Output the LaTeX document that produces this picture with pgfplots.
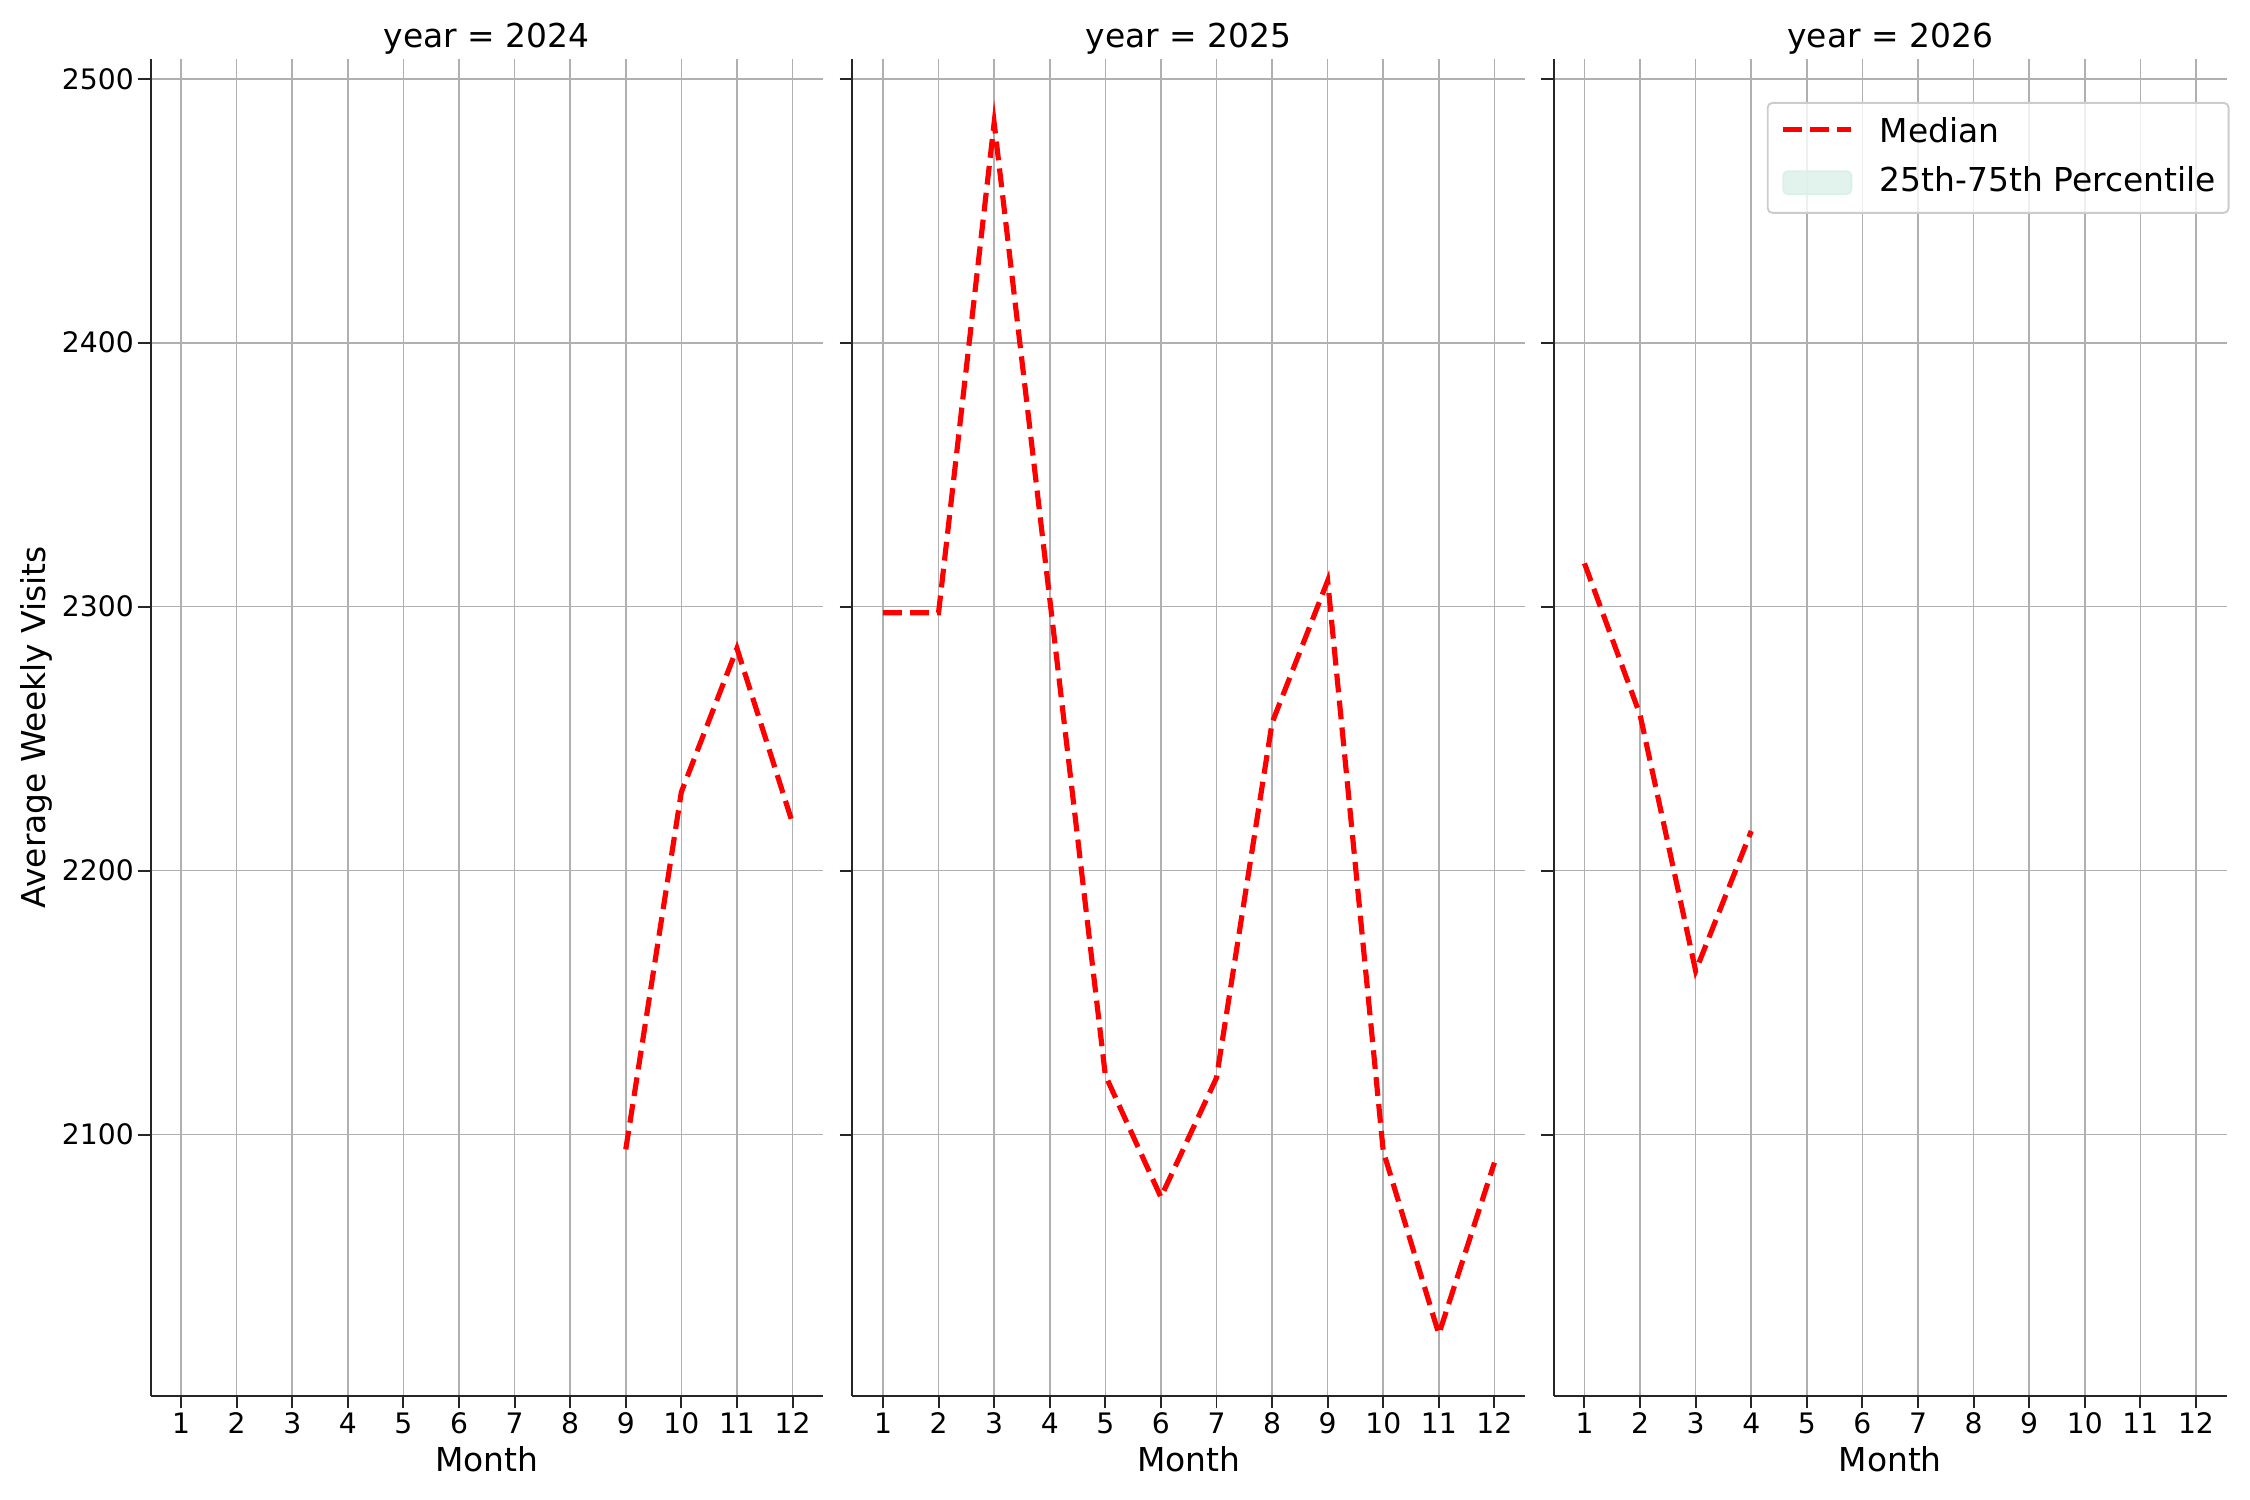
\documentclass[border=0pt]{standalone}
\usepackage{fontspec}
\setmainfont{DejaVu Sans}
\usepackage{pgfplots}
\pgfplotsset{compat=1.18}
\definecolor{medred}{RGB}{255,0,0}
\definecolor{pctfill}{RGB}{220,240,234}
\definecolor{gridc}{RGB}{176,176,176}
\definecolor{spinec}{RGB}{38,38,38}

\pgfplotsset{
  facet/.style={
    scale only axis, width=286.2pt, height=568.9pt,
    xmin=0.45, xmax=12.55, ymin=2001.1, ymax=2507.6,
    xtick={1,...,12}, ytick={2100,2200,2300,2400,2500},
    axis lines*=left, axis line style={spinec, line width=0.85pt, -},
    grid=major, major grid style={gridc, line width=0.7pt},
    tick align=outside, major tick length=5.4pt,
    tick style={spinec, line width=0.85pt},
    every tick label/.append style={font=\fontsize{12}{14}\selectfont, text=black},
    xticklabel style={yshift=1.6pt},
    yticklabel style={xshift=1.8pt},
    /pgf/number format/assume math mode=true,
    /pgf/number format/1000 sep={},
    every axis title/.style={at={(axis description cs:0.5,1.0085)}, anchor=base, font=\fontsize{14}{17}\selectfont, inner sep=0pt},
    xlabel={Month},
    xlabel style={at={(axis description cs:0.5,-0.0566)}, anchor=base, font=\fontsize{14}{17}\selectfont, inner sep=0pt},
  },
  medstyle/.style={medred, line width=2.2pt, dash pattern=on 8pt off 3.5pt, line cap=butt, line join=miter},
  medlegend/.style={legend image code/.code={\draw[##1] (0pt,0pt) -- (29pt,0pt);}},
  pctlegend/.style={legend image code/.code={\fill[pctfill] (0pt,-4.9pt) rectangle (29pt,4.9pt);}},
}

\begin{document}
\begin{tikzpicture}
\useasboundingbox (0,0) rectangle (957.4pt,638.25pt);

% year 2024
\begin{axis}[facet, at={(64.04pt,44.38pt)}, anchor=south west,
  title={year = 2024},
  ylabel={Average Weekly Visits},
  ylabel style={at={(axis description cs:-0.170,0.5)}, anchor=center, font=\fontsize{14}{17}\selectfont, inner sep=0pt},
]
\addplot[medstyle] coordinates {
  (9,2094.4) (10,2229.8) (11,2284.2) (12,2218.0)
};
\end{axis}

% year 2025
\begin{axis}[facet, at={(362.7pt,44.38pt)}, anchor=south west,
  title={year = 2025}, yticklabels={},
]
\addplot[medstyle] coordinates {
  (1,2297.7) (2,2297.7) (3,2483.3) (4,2303.0) (5,2122.5) (6,2076.3)
  (7,2121.5) (8,2256.0) (9,2309.8) (10,2093.7) (11,2024.4) (12,2089.4)
};
\end{axis}

% year 2026
\begin{axis}[facet, at={(661.2pt,44.38pt)}, anchor=south west,
  title={year = 2026}, yticklabels={},
  legend style={at={(axis description cs:1.0045,0.9676)}, anchor=north east,
    draw=black!20, line width=0.8pt, rounded corners=2pt, fill=white, fill opacity=0.8, text opacity=1,
    font=\fontsize{14}{17}\selectfont,
    inner xsep=5.5pt, inner ysep=6pt, row sep=10.5pt, column sep=11pt,
    nodes={inner sep=0pt, text depth=0pt}},
  legend cell align=left,
]
\addplot[medstyle, medlegend] coordinates {
  (1,2316.4) (2,2259.0) (3,2162.0) (4,2215.0)
};
\addlegendentry{Median}
\addlegendimage{pctlegend}
\addlegendentry[text depth=3pt]{25th-75th Percentile}
\end{axis}
\end{tikzpicture}
\end{document}
